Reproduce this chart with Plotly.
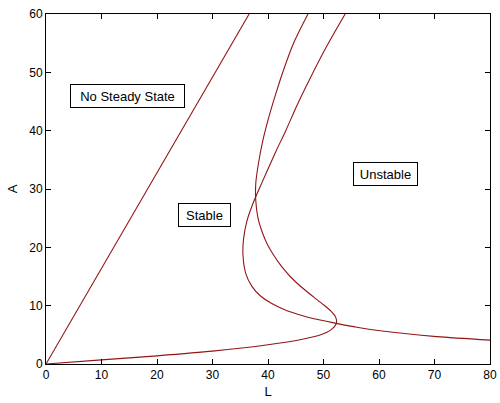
import plotly.graph_objects as go

# Straight boundary line (No Steady State / Stable)
line_L = [0, 36.6]
line_A = [0, 60]

# Curve 1: from origin, fold at L~52.4, back up to top at L~47
c1_L = [0, 10, 20, 30, 40, 46, 49.5, 51.4, 52.3, 52.2, 51.3, 49.8, 48.2, 46.0, 44.0, 42.3,
        41.0, 39.9, 39.0, 38.2, 37.8, 37.8, 38.3, 39.0, 40.0, 41.3, 42.8, 44.6, 47.2]
c1_A = [0, 0.7, 1.4, 2.2, 3.3, 4.2, 5.0, 5.9, 6.9, 8.0, 9.1, 10.3, 11.5, 13.2, 15.0, 16.9,
        18.7, 20.5, 22.5, 25.0, 28.0, 31.0, 34.5, 38.0, 41.8, 46.0, 50.4, 55, 60]

# Curve 2: from right edge, leftward loop, up to top at L~53.9
c2_L = [80, 70.4, 60.2, 56, 52.3, 48.5, 45.5, 43.0, 40.6, 38.6, 37.1, 36.0, 35.5, 35.6,
        36.2, 37.2, 38.4, 39.8, 41.4, 43.2, 45.3, 47.6, 50.6, 53.9]
c2_A = [4.1, 4.7, 5.7, 6.3, 6.97, 7.7, 8.5, 9.3, 10.4, 11.7, 13.3, 15.5, 18.5, 21.5,
        24.5, 27.3, 30.0, 33.0, 36.4, 40.0, 44.5, 49.0, 54.5, 60]

labels = ["No Steady State", "Stable", "Unstable"]
label_L = [14.6, 28.5, 61.25]
label_A = [45.9, 25.6, 32.5]
label_w = [107, 45, 57]

x_ticks = [0, 10, 20, 30, 40, 50, 60, 70, 80]
y_ticks = [0, 10, 20, 30, 40, 50, 60]

FONT = "Liberation Sans, Arial"
color = "rgb(145,22,22)"
fig = go.Figure()
fig.add_trace(go.Scatter(x=line_L, y=line_A, mode="lines",
                         line=dict(color=color, width=1.1)))
fig.add_trace(go.Scatter(x=c1_L, y=c1_A, mode="lines",
                         line=dict(color=color, width=1.1, shape="spline", smoothing=0.7)))
fig.add_trace(go.Scatter(x=c2_L, y=c2_A, mode="lines",
                         line=dict(color=color, width=1.1, shape="spline", smoothing=0.7)))

for t, lx, ly, w in zip(labels, label_L, label_A, label_w):
    fig.add_annotation(x=lx, y=ly, text=t, showarrow=False, width=w, height=16,
                       align="center", valign="middle",
                       font=dict(family=FONT, size=13, color="black"),
                       bgcolor="white", bordercolor="black", borderwidth=1, borderpad=3)

axis_common = dict(showline=True, linecolor="black", linewidth=1, mirror="ticks",
                   ticks="inside", ticklen=5, tickcolor="black", showgrid=False,
                   zeroline=False, automargin=False,
                   tickfont=dict(family=FONT, size=12, color="black"))
fig.update_xaxes(range=[0, 80], tickvals=x_ticks,
                 title=dict(text="L", standoff=5, font=dict(family=FONT, size=13, color="black")),
                 **axis_common)
fig.update_yaxes(range=[0, 60], tickvals=y_ticks,
                 title=dict(text="A", standoff=8, font=dict(family=FONT, size=13, color="black")),
                 **axis_common)

fig.update_layout(width=500, height=403, showlegend=False,
                  margin=dict(l=46, r=10, t=14, b=39, autoexpand=False),
                  plot_bgcolor="white", paper_bgcolor="white")

fig.write_html("out.html", config={"displayModeBar": False},
               post_script="document.body.style.margin='0';document.body.style.overflow='hidden';")
